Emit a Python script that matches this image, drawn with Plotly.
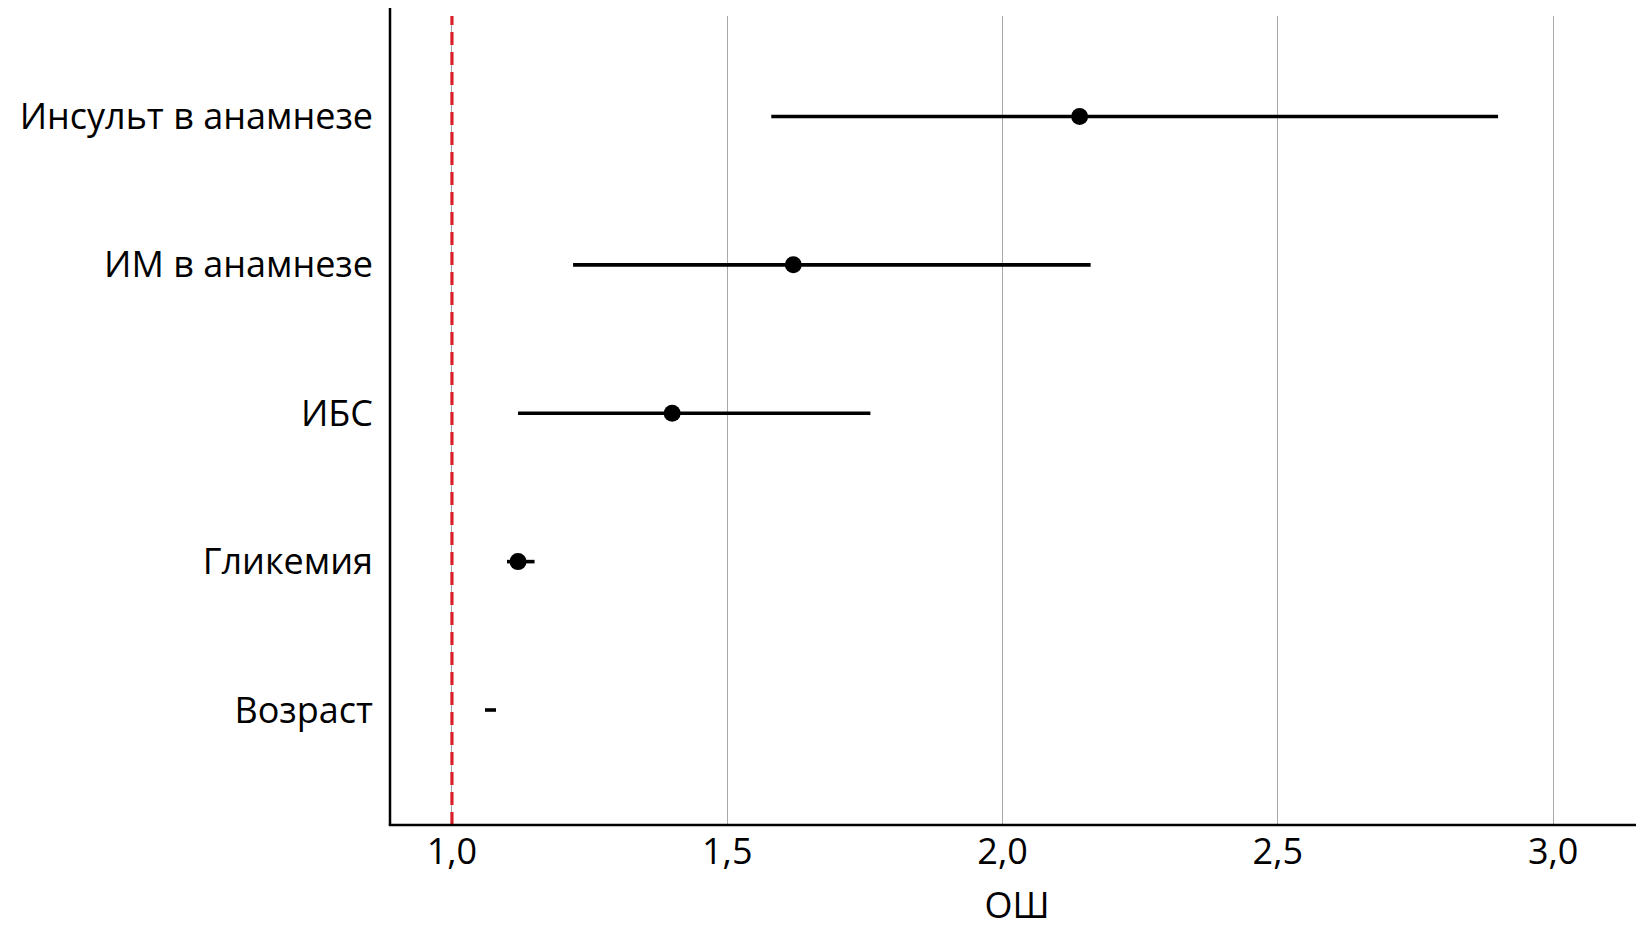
import plotly.graph_objects as go

categories = ["Возраст", "Гликемия", "ИБС", "ИМ в анамнезе", "Инсульт в анамнезе"]
odds_ratio = [1.07, 1.12, 1.40, 1.62, 2.14]
ci_low = [1.06, 1.10, 1.12, 1.22, 1.58]
ci_high = [1.08, 1.15, 1.76, 2.16, 2.90]
x_ticks = [1.0, 1.5, 2.0, 2.5, 3.0]
x_tick_labels = ["1,0", "1,5", "2,0", "2,5", "3,0"]
reference_value = 1.0

ypos = list(range(len(categories)))
err_plus = [h - v for h, v in zip(ci_high, odds_ratio)]
err_minus = [v - l for v, l in zip(odds_ratio, ci_low)]
marker_sizes = [0 if (h - l) < 0.03 else 17 for h, l in zip(ci_high, ci_low)]

FONT = "Open Sans"

fig = go.Figure()
fig.add_trace(go.Scatter(
    x=odds_ratio, y=ypos, mode="markers",
    marker=dict(color="black", size=marker_sizes, opacity=1, line=dict(width=0)),
    error_x=dict(type="data", symmetric=False, array=err_plus, arrayminus=err_minus,
                 color="black", thickness=3.6, width=0),
    showlegend=False, hoverinfo="x+y",
))

fig.add_shape(type="line", xref="x", yref="paper", x0=reference_value, x1=reference_value,
              y0=0, y1=1, line=dict(color="#d9202a", width=3.2, dash="13px,7px"), layer="above")
# y-axis line extending to top of figure
fig.add_shape(type="line", xref="paper", yref="paper", x0=0, x1=0, y0=0, y1=1.02,
              line=dict(color="black", width=2.5), layer="above")

fig.update_layout(
    width=1644, height=925,
    margin=dict(l=382, r=8, t=8, b=108),
    plot_bgcolor="white", paper_bgcolor="white",
    font=dict(family=FONT, size=36, color="black"),
    xaxis=dict(range=[0.8875, 3.165], tickvals=x_ticks, ticktext=x_tick_labels,
               showgrid=True, gridcolor="#a8a8a8", gridwidth=1,
               showline=False, ticks="", zeroline=False, ticklabelstandoff=2,
               title=dict(text="ОШ", standoff=18, font=dict(size=36))),
    yaxis=dict(range=[-0.775, 4.677], tickvals=ypos, ticktext=categories,
               showgrid=False, zeroline=False, showline=False, ticks="",
               ticklabelstandoff=16),
)
# x-axis line extending to the right edge of the figure
fig.add_shape(type="line", xref="paper", yref="paper", x0=-0.001, x1=1.01, y0=0, y1=0,
              line=dict(color="black", width=2.5), layer="above")

fig.write_html("out.html")
